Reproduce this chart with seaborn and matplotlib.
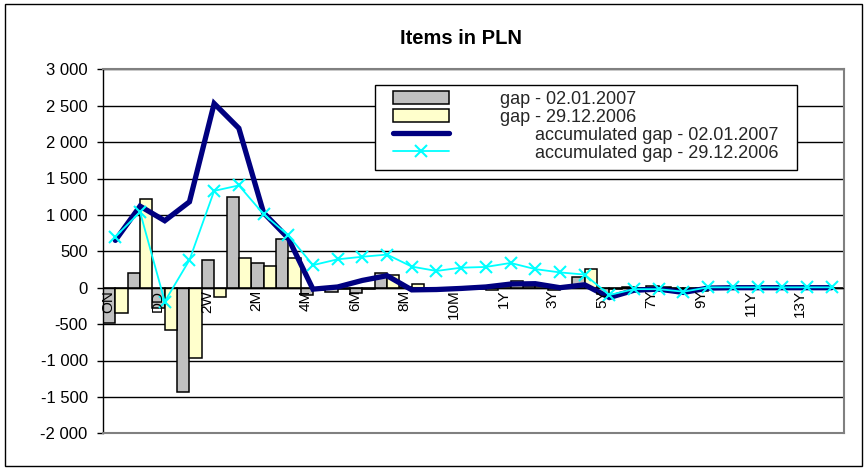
import numpy as np
import pandas as pd
import matplotlib
matplotlib.use("Agg")
import matplotlib.pyplot as plt
import matplotlib.transforms as mtransforms
from matplotlib.patches import Rectangle
from matplotlib.ticker import FuncFormatter, MultipleLocator
import seaborn as sns

# Maturity buckets of the liquidity gap report
buckets = ["ON", "TN", "DD", "1W", "2W", "1M", "2M", "3M", "4M", "5M",
           "6M", "7M", "8M", "9M", "10M", "11M", "1Y", "2Y", "3Y", "4Y",
           "5Y", "6Y", "7Y", "8Y", "9Y", "10Y", "11Y", "12Y", "13Y", "14Y"]
# Every second bucket carries a visible label
shown_labels = buckets[::2]

# Gap per bucket (PLN)
gap_0201 = [-490, 200, -275, -1430, 380, 1240, 335, 665, -105, -60,
            -70, 200, 15, -10, -15, -20, 30, 20, -30, 145,
            -80, 10, 20, -20, -40, 5, 5, 5, 5, 5]
gap_2912 = [-350, 1220, -575, -960, -130, 410, 300, 410, -30, -20,
            -20, 170, 55, -5, -10, -30, 90, 30, 10, 255,
            -20, 0, 10, -15, 0, 0, 0, 0, 0, 0]

# Accumulated gap per bucket (PLN)
acc_0201 = [650, 1120, 920, 1180, 2530, 2190, 1030, 680, -20, 10,
            100, 165, -30, -25, -10, 10, 50, 55, 0, 40,
            -135, -35, -20, -65, -5, 0, 0, 0, 0, 0]
acc_2912 = [700, 1040, -190, 380, 1330, 1405, 1010, 720, 310, 390,
            425, 455, 290, 230, 275, 285, 340, 255, 210, 180,
            -100, -20, -20, -55, 5, 5, 5, 5, 5, 5]

lab_gap_a = "gap - 02.01.2007"
lab_gap_b = "gap - 29.12.2006"
lab_acc_a = "accumulated gap - 02.01.2007"
lab_acc_b = "accumulated gap - 29.12.2006"

sns.set_theme(style="white")
plt.rcParams["font.family"] = ["Liberation Sans", "DejaVu Sans"]

W, H = 867, 470
fig = plt.figure(figsize=(W / 100, H / 100), dpi=100)
ax = fig.add_axes([103 / W, 1 - 433.3 / H, (844 - 103) / W, (433.3 - 69.3) / H])

n = len(buckets)
bars = pd.DataFrame({
    "bucket": buckets * 2,
    "value": gap_0201 + gap_2912,
    "series": [lab_gap_a] * n + [lab_gap_b] * n,
})
sns.barplot(data=bars, x="bucket", y="value", hue="series", order=buckets,
            hue_order=[lab_gap_a, lab_gap_b], palette=["#C0C0C0", "#FFFFCC"],
            width=1.0, edgecolor="black", linewidth=1.1, saturation=1,
            errorbar=None, legend=False, ax=ax, zorder=2)

pos = np.arange(n)
sns.lineplot(x=pos, y=acc_0201, color="#000080", linewidth=3.8, ax=ax,
             zorder=4, solid_joinstyle="miter")
line_a = ax.lines[-1]
sns.lineplot(x=pos, y=acc_2912, color="#00FFFF", linewidth=1.3, marker="x",
             markersize=8, markeredgewidth=1.5, markeredgecolor="#00FFFF",
             ax=ax, zorder=5)
line_b = ax.lines[-1]

ax.set_xlim(-0.5, n - 0.5)
ax.set_ylim(-2000, 3000)
ax.yaxis.set_major_locator(MultipleLocator(500))
ax.yaxis.set_major_formatter(FuncFormatter(lambda v, p: f"{v:,.0f}".replace(",", " ")))
ax.yaxis.grid(True, color="black", linewidth=1.0)
ax.set_axisbelow(True)
ax.axhline(0, color="black", linewidth=1.0, zorder=3)

ax.set_xticks([])
ax.set_xlabel("")
ax.set_ylabel("")
ax.tick_params(axis="y", which="major", direction="out", length=4, width=1,
               color="black", labelsize=12, pad=7, left=True)
for t in ax.get_yticklabels():
    t.set_color("black")

for side in ("top", "right", "bottom"):
    ax.spines[side].set_color("#808080")
    ax.spines[side].set_linewidth(1.5)
ax.spines["left"].set_color("black")
ax.spines["left"].set_linewidth(1.0)

# Bucket labels hang from the zero line, rotated
shift = mtransforms.ScaledTranslation(-7 / 100, -2 / 100, fig.dpi_scale_trans)
for i, b in enumerate(buckets):
    if b in shown_labels and i % 2 == 0:
        ax.text(i, 0, b, rotation=90, ha="center", va="top", fontsize=11,
                color="black", transform=ax.transData + shift, zorder=6)

# Legend box: a plain frame with the entries laid inside it
legend_frame = Rectangle((375 / W, 1 - 170 / H), (797 - 375) / W, (170 - 85) / H,
                         transform=fig.transFigure, facecolor="white",
                         edgecolor="black", linewidth=1.0, zorder=6)
ax.add_artist(legend_frame)
legend_frame.set_clip_on(False)

handles = [ax.containers[0][0], ax.containers[1][0], line_a, line_b]
labels = [lab_gap_a, lab_gap_b, "       " + lab_acc_a, "       " + lab_acc_b]
leg = ax.legend(handles, labels, loc="upper left",
                bbox_to_anchor=(393 / W, 1 - 91 / H), bbox_transform=fig.transFigure,
                borderaxespad=0, borderpad=0, frameon=False,
                fontsize=13, handlelength=3.1, handleheight=0.72,
                handletextpad=2.8, labelspacing=0.05)
leg.set_zorder(7)

fig.text(461.5 / W, 1 - 38 / H, "Items in PLN", ha="center", va="center",
         fontsize=14.5, fontweight="bold", color="black")

fig.patches.append(Rectangle((5 / W, 4 / H), (862 - 5) / W, (466 - 4) / H,
                             transform=fig.transFigure, fill=False,
                             edgecolor="black", linewidth=1.0))

fig.savefig("out.png", dpi=100, facecolor="white")
